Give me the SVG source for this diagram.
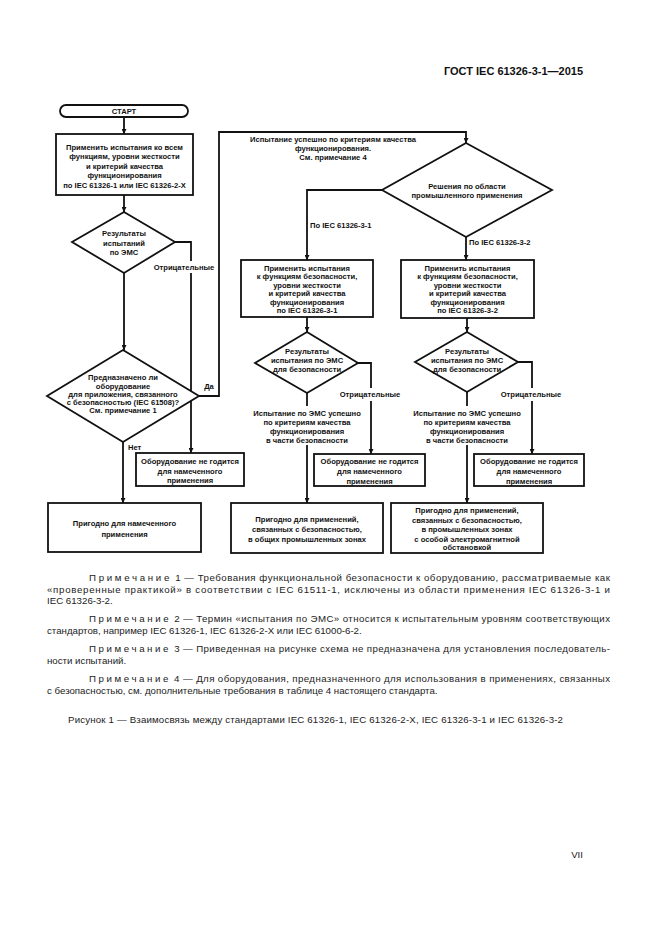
<svg xmlns="http://www.w3.org/2000/svg" width="661" height="936" viewBox="0 0 661 936">
<style>
.bg{fill:#fff}
.shape{fill:#fff;stroke:#111;stroke-width:1.8}
.ln{fill:none;stroke:#111;stroke-width:1.8}
.t{font-family:"Liberation Sans",Arial,sans-serif;font-size:7.6px;font-weight:bold;fill:#111;text-anchor:middle}
.ts{font-family:"Liberation Sans",Arial,sans-serif;font-size:7.6px;font-weight:bold;fill:#111}
.note{font-family:"Liberation Sans",Arial,sans-serif;font-size:9.7px;fill:#222}
.hdr{font-family:"Liberation Sans",Arial,sans-serif;font-size:11px;font-weight:bold;fill:#111;text-anchor:end}
</style>
<defs>
<marker id="arr" viewBox="0 0 6 6" refX="6" refY="3" markerWidth="5" markerHeight="5" markerUnits="userSpaceOnUse" orient="auto">
<path d="M0,0 L6,3 L0,6 z" fill="#111"/>
</marker>
</defs>
<rect class="bg" x="0" y="0" width="661" height="936"/>
<text class="hdr" x="583" y="75">ГОСТ IEC 61326-3-1—2015</text>

<g id="connectors">
<path class="ln" d="M124,117 V134" marker-end="url(#arr)"/>
<path class="ln" d="M124,195 V212" marker-end="url(#arr)"/>
<path class="ln" d="M124,273 V350" marker-end="url(#arr)"/>
<path class="ln" d="M175,242 H191 V261"/>
<path class="ln" d="M191,273 V453" marker-end="url(#arr)"/>
<path class="ln" d="M199,396 H219 V132 H466 V143" marker-end="url(#arr)"/>
<path class="ln" d="M123,442 V503" marker-end="url(#arr)"/>
<path class="ln" d="M382,190 H307 V260" marker-end="url(#arr)"/>
<path class="ln" d="M466,237 V260" marker-end="url(#arr)"/>
<path class="ln" d="M307,317 V332" marker-end="url(#arr)"/>
<path class="ln" d="M358,363 H371 V388"/>
<path class="ln" d="M371,401 V454" marker-end="url(#arr)"/>
<path class="ln" d="M307,393 V406"/>
<path class="ln" d="M307,445 V503" marker-end="url(#arr)"/>
<path class="ln" d="M467,318 V332" marker-end="url(#arr)"/>
<path class="ln" d="M518,362 H532 V388"/>
<path class="ln" d="M532,401 V454" marker-end="url(#arr)"/>
<path class="ln" d="M467,392 V406"/>
<path class="ln" d="M467,445 V503" marker-end="url(#arr)"/>
<text class="t" x="184" y="270">Отрицательные</text>
<text class="t" x="209" y="389">Да</text>
<text class="ts" x="128" y="450">Нет</text>
<text class="ts" x="310" y="228">По IEC 61326-3-1</text>
<text class="ts" x="469" y="245">По IEC 61326-3-2</text>
<text class="t" x="370" y="397">Отрицательные</text>
<text class="t" x="531" y="397">Отрицательные</text>
<text class="t" x="333" y="142">Испытание успешно по критериям качества</text>
<text class="t" x="333" y="151">функционирования.</text>
<text class="t" x="333" y="160">См. примечание 4</text>
<text class="t" x="307" y="416">Испытание по ЭМС успешно</text>
<text class="t" x="307" y="425">по критериям качества</text>
<text class="t" x="307" y="434">функционирования</text>
<text class="t" x="307" y="442.5">в части безопасности</text>
<text class="t" x="467" y="416">Испытание по ЭМС успешно</text>
<text class="t" x="467" y="425">по критериям качества</text>
<text class="t" x="467" y="434">функционирования</text>
<text class="t" x="467" y="442.5">в части безопасности</text>
</g>

<g id="start">
<rect class="shape" x="60" y="105" width="128" height="12" rx="6"/>
<text class="t" x="124" y="114">СТАРТ</text>
</g>

<g id="apply-general">
<rect class="shape" x="56" y="134" width="137" height="61"/>
<text class="t" x="124.5" y="149.5">Применить испытания ко всем</text>
<text class="t" x="124.5" y="159">функциям, уровни жесткости</text>
<text class="t" x="124.5" y="168.5">и критерий качества</text>
<text class="t" x="124.5" y="178">функционирования</text>
<text class="t" x="124.5" y="187.5">по IEC 61326-1 или IEC 61326-2-X</text>
</g>

<g id="emc-results">
<polygon class="shape" points="124,212 175,242 124,273 72,242"/>
<text class="t" x="124" y="236">Результаты</text>
<text class="t" x="124" y="245.5">испытаний</text>
<text class="t" x="124" y="255">по ЭМС</text>
</g>

<g id="safety-question">
<polygon class="shape" points="123,350 199,396 123,442 47,396"/>
<text class="t" x="123" y="380">Предназначено ли</text>
<text class="t" x="123" y="388.5">оборудование</text>
<text class="t" x="123" y="397">для приложения, связанного</text>
<text class="t" x="123" y="405">с безопасностью (IEC 61508)?</text>
<text class="t" x="123" y="413">См. примечание 1</text>
</g>

<g id="not-suitable-1">
<rect class="shape" x="136" y="453" width="108" height="33"/>
<text class="t" x="190" y="463.5">Оборудование не годится</text>
<text class="t" x="190" y="473.5">для намеченного</text>
<text class="t" x="190" y="483">применения</text>
</g>

<g id="suitable-intended">
<rect class="shape" x="48" y="503" width="153" height="49"/>
<text class="t" x="124.5" y="526">Пригодно для намеченного</text>
<text class="t" x="124.5" y="537">применения</text>
</g>

<g id="area-decision">
<polygon class="shape" points="466,143 552,190 466,237 382,190"/>
<text class="t" x="467" y="189">Решения по области</text>
<text class="t" x="467" y="198">промышленного применения</text>
</g>

<g id="apply-3-1">
<rect class="shape" x="241" y="260" width="132" height="57"/>
<text class="t" x="307" y="270.5">Применить испытания</text>
<text class="t" x="307" y="279">к функциям безопасности,</text>
<text class="t" x="307" y="287.5">уровни жесткости</text>
<text class="t" x="307" y="296">и критерий качества</text>
<text class="t" x="307" y="304.5">функционирования</text>
<text class="t" x="307" y="313">по IEC 61326-3-1</text>
</g>

<g id="apply-3-2">
<rect class="shape" x="401" y="260" width="133" height="58"/>
<text class="t" x="467.5" y="270.5">Применить испытания</text>
<text class="t" x="467.5" y="279">к функциям безопасности,</text>
<text class="t" x="467.5" y="287.5">уровни жесткости</text>
<text class="t" x="467.5" y="296">и критерий качества</text>
<text class="t" x="467.5" y="304.5">функционирования</text>
<text class="t" x="467.5" y="313">по IEC 61326-3-2</text>
</g>

<g id="safety-results-3-1">
<polygon class="shape" points="307,332 358,363 307,393 255,363"/>
<text class="t" x="307" y="354">Результаты</text>
<text class="t" x="307" y="362.5">испытания по ЭМС</text>
<text class="t" x="307" y="371.5">для безопасности</text>
</g>

<g id="safety-results-3-2">
<polygon class="shape" points="467,332 518,362 467,392 415,362"/>
<text class="t" x="467" y="354">Результаты</text>
<text class="t" x="467" y="362.5">испытания по ЭМС</text>
<text class="t" x="467" y="371.5">для безопасности</text>
</g>

<g id="not-suitable-2">
<rect class="shape" x="314" y="454" width="111" height="32"/>
<text class="t" x="369.5" y="464">Оборудование не годится</text>
<text class="t" x="369.5" y="474">для намеченного</text>
<text class="t" x="369.5" y="483.5">применения</text>
</g>

<g id="not-suitable-3">
<rect class="shape" x="474" y="454" width="110" height="32"/>
<text class="t" x="529" y="464">Оборудование не годится</text>
<text class="t" x="529" y="474">для намеченного</text>
<text class="t" x="529" y="483.5">применения</text>
</g>

<g id="suitable-general-zones">
<rect class="shape" x="231" y="503" width="152" height="50"/>
<text class="t" x="307" y="522">Пригодно для применений,</text>
<text class="t" x="307" y="532">связанных с безопасностью,</text>
<text class="t" x="307" y="541.5">в общих промышленных зонах</text>
</g>

<g id="suitable-special-zones">
<rect class="shape" x="391" y="503" width="152" height="50"/>
<text class="t" x="467" y="513">Пригодно для применений,</text>
<text class="t" x="467" y="522.5">связанных с безопасностью,</text>
<text class="t" x="467" y="532">в промышленных зонах</text>
<text class="t" x="467" y="541.5">с особой электромагнитной</text>
<text class="t" x="467" y="550">обстановкой</text>
</g>

<g id="notes">
<text class="note" x="89" y="580.5" textLength="521" lengthAdjust="spacing"><tspan letter-spacing="2.2">Примечание</tspan> 1 — Требования функциональной безопасности к оборудованию, рассматриваемые как</text>
<text class="note" x="47" y="592.5" textLength="563" lengthAdjust="spacing">«проверенные практикой» в соответствии с IEC 61511-1, исключены из области применения IEC 61326-3-1 и</text>
<text class="note" x="47" y="604">IEC 61326-3-2.</text>
<text class="note" x="89" y="621.5" textLength="521" lengthAdjust="spacing"><tspan letter-spacing="2.2">Примечание</tspan> 2 — Термин «испытания по ЭМС» относится к испытательным уровням соответствующих</text>
<text class="note" x="47" y="633.5">стандартов, например IEC 61326-1, IEC 61326-2-X или IEC 61000-6-2.</text>
<text class="note" x="89" y="651.5" textLength="521" lengthAdjust="spacing"><tspan letter-spacing="2.2">Примечание</tspan> 3 — Приведенная на рисунке схема не предназначена для установления последователь-</text>
<text class="note" x="47" y="664">ности испытаний.</text>
<text class="note" x="89" y="681.5" textLength="521" lengthAdjust="spacing"><tspan letter-spacing="2.2">Примечание</tspan> 4 — Для оборудования, предназначенного для использования в применениях, связанных</text>
<text class="note" x="47" y="693.5">с безопасностью, см. дополнительные требования в таблице 4 настоящего стандарта.</text>
<text class="note" x="68" y="722.5" textLength="495" lengthAdjust="spacing">Рисунок  1 — Взаимосвязь между стандартами IEC 61326-1, IEC 61326-2-X, IEC 61326-3-1 и IEC 61326-3-2</text>
</g>
<text class="note" x="583" y="858" text-anchor="end">VII</text>
</svg>
